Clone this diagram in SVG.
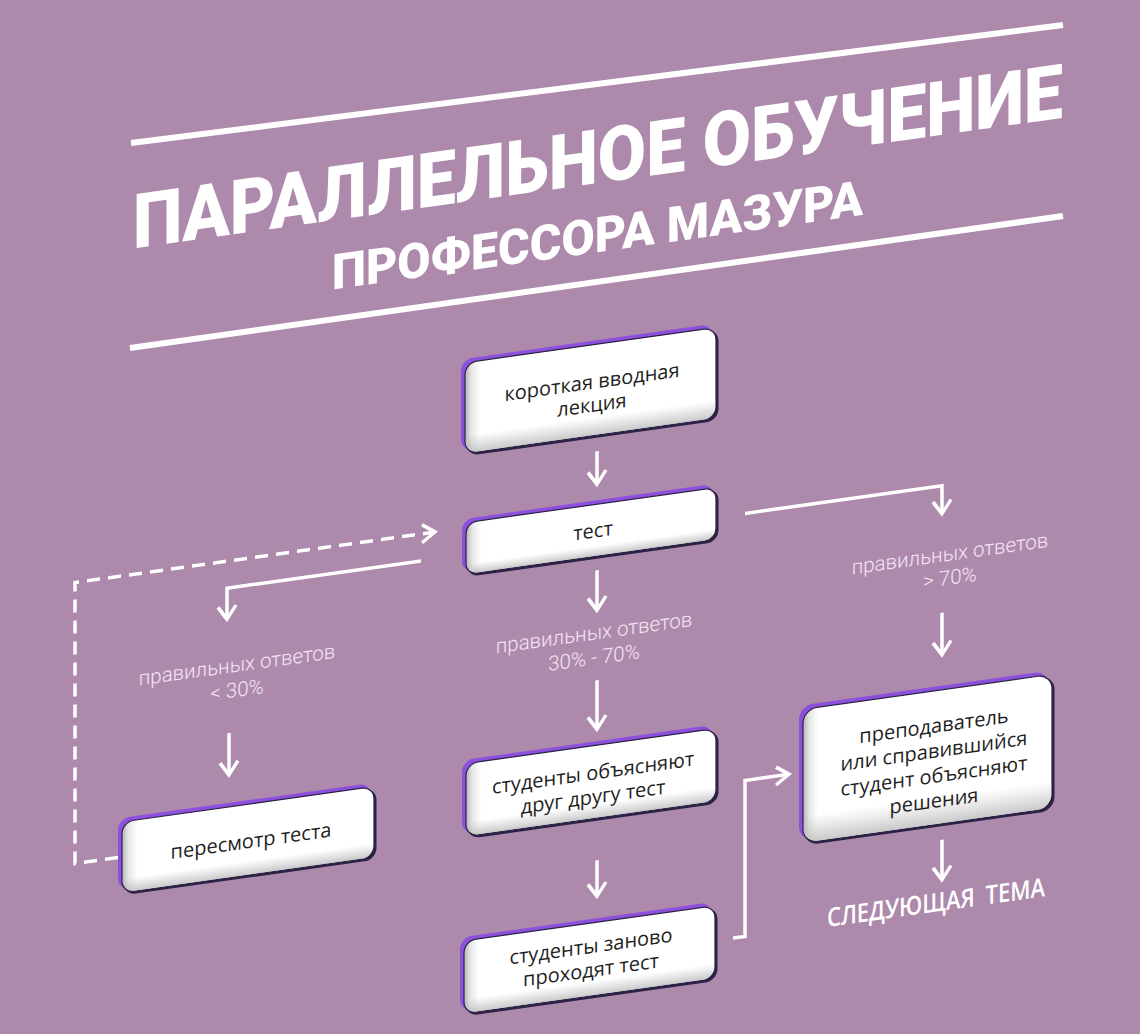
<svg xmlns="http://www.w3.org/2000/svg" width="1140" height="1034" viewBox="0 0 1140 1034">
  <defs>
    <style>
      .bg{fill:#ad8aac}
      .tline{stroke:#ffffff;stroke-width:6;fill:none}
      .title{font-family:Roboto,"Open Sans","DejaVu Sans",sans-serif;font-weight:900;fill:#ffffff}
      .shp{fill:#8d50dc}
      .shd{fill:#2b2246}
      .bx{fill:url(#gH);stroke:#2b2246;stroke-width:1.2}
      .bv{fill:url(#gV)}
      .bt{font-family:"Open Sans","Noto Sans","DejaVu Sans",sans-serif;font-size:20px;fill:#1f1f1f;text-anchor:middle}
      .lbl{font-family:Roboto,"Open Sans","DejaVu Sans",sans-serif;font-weight:300;font-size:20.5px;fill:#f5e4f3;text-anchor:middle}
      .next{font-family:"Open Sans","Noto Sans","DejaVu Sans",sans-serif;font-weight:600;font-size:26px;fill:#ffffff;word-spacing:6px}
      .con{stroke:#ffffff;stroke-width:3.5;fill:none;marker-end:url(#ah)}
      .dash{stroke-dasharray:13 8}
    </style>
    <linearGradient id="gH" x1="0" y1="0" x2="1" y2="0">
      <stop offset="0" stop-color="#b5b5b5"/>
      <stop offset="0.025" stop-color="#e6e6e6"/>
      <stop offset="0.06" stop-color="#ffffff"/>
      <stop offset="1" stop-color="#ffffff"/>
    </linearGradient>
    <linearGradient id="gV" x1="0" y1="0" x2="0" y2="1">
      <stop offset="0.8" stop-color="#c0c0c0" stop-opacity="0"/>
      <stop offset="1" stop-color="#b8b8b8" stop-opacity="0.75"/>
    </linearGradient>
    <marker id="ah" markerUnits="userSpaceOnUse" markerWidth="30" markerHeight="30" refX="0" refY="0" orient="auto" overflow="visible">
      <path d="M-13,-9 L0,0 L-13,9" fill="none" stroke="#ffffff" stroke-width="3.5" stroke-linejoin="miter"/>
    </marker>
  </defs>

  <rect class="bg" x="0" y="0" width="1140" height="1034"/>

  <g id="title-lines">
    <line class="tline" x1="131" y1="143" x2="1063" y2="25"/>
    <line class="tline" x1="130" y1="348" x2="1063" y2="216"/>
  </g>

  <g id="skewed" transform="matrix(1,-0.1405,0,1,0,80.085)">
    <g id="title">
      <text class="title" x="133" y="187" font-size="76" textLength="930" lengthAdjust="spacingAndGlyphs">ПАРАЛЛЕЛЬНОЕ ОБУЧЕНИЕ</text>
      <text class="title" x="332" y="256" font-size="49" textLength="531" lengthAdjust="spacingAndGlyphs">ПРОФЕССОРА МАЗУРА</text>
    </g>

    <g id="connectors">
      <path class="con" d="M597,455 V488"/>
      <path class="con" d="M597,574 V614"/>
      <path class="con" d="M597,684 V733"/>
      <path class="con" d="M597,864 V900"/>
      <path class="con" d="M745,538 H942 V566"/>
      <path class="con" d="M942,665 V707"/>
      <path class="con" d="M942,892 V932"/>
      <path class="con" d="M421,540 H227 V571"/>
      <path class="con" d="M229,685 V727"/>
      <path class="con dash" d="M118,794 H75 V513 H435"/>
      <path class="con" d="M733,961 H745 V805 H789"/>
    </g>

    <g id="node-lecture">
      <rect class="shp" x="461" y="344" width="252" height="92" rx="12"/>
      <rect class="shd" x="466.5" y="349.5" width="252" height="92" rx="12"/>
      <rect class="bx" x="465" y="348" width="251" height="91" rx="12"/>
      <rect class="bv" x="465.6" y="348.6" width="249.8" height="89.8" rx="11.5"/>
      <text class="bt" x="592" y="392">короткая вводная</text>
      <text class="bt" x="592" y="415">лекция</text>
    </g>

    <g id="node-test">
      <rect class="shp" x="462" y="504" width="251" height="53" rx="11"/>
      <rect class="shd" x="467.5" y="509.5" width="251" height="53" rx="11"/>
      <rect class="bx" x="466" y="508" width="250" height="52" rx="11"/>
      <rect class="bv" x="466.6" y="508.6" width="248.8" height="50.8" rx="10.5"/>
      <text class="bt" x="593" y="541">тест</text>
    </g>

    <g id="node-explain">
      <rect class="shp" x="462" y="745" width="251" height="74" rx="12"/>
      <rect class="shd" x="467.5" y="750.5" width="251" height="74" rx="12"/>
      <rect class="bx" x="466" y="749" width="250" height="73" rx="12"/>
      <rect class="bv" x="466.6" y="749.6" width="248.8" height="71.8" rx="11.5"/>
      <text class="bt" x="593" y="783">студенты объясняют</text>
      <text class="bt" x="593" y="807">друг другу тест</text>
    </g>

    <g id="node-retake">
      <rect class="shp" x="460" y="922" width="252" height="74" rx="12"/>
      <rect class="shd" x="465.5" y="927.5" width="252" height="74" rx="12"/>
      <rect class="bx" x="464" y="926" width="251" height="73" rx="12"/>
      <rect class="bv" x="464.6" y="926.6" width="249.8" height="71.8" rx="11.5"/>
      <text class="bt" x="591" y="956">студенты заново</text>
      <text class="bt" x="591" y="980">проходят тест</text>
    </g>

    <g id="node-review">
      <rect class="shp" x="118" y="755" width="253" height="72" rx="12"/>
      <rect class="shd" x="123.5" y="760.5" width="253" height="72" rx="12"/>
      <rect class="bx" x="122" y="759" width="252" height="71" rx="12"/>
      <rect class="bv" x="122.6" y="759.6" width="250.8" height="69.8" rx="11.5"/>
      <text class="bt" x="251" y="803">пересмотр теста</text>
    </g>

    <g id="node-teacher">
      <rect class="shp" x="799" y="738" width="250" height="135" rx="14"/>
      <rect class="shd" x="804.5" y="743.5" width="250" height="135" rx="14"/>
      <rect class="bx" x="803" y="742" width="249" height="134" rx="14"/>
      <rect class="bv" x="803.6" y="742.6" width="247.8" height="132.8" rx="13.5"/>
      <text class="bt" x="934" y="784">преподаватель</text>
      <text class="bt" x="934" y="809">или справившийся</text>
      <text class="bt" x="934" y="834">студент объясняют</text>
      <text class="bt" x="934" y="859">решения</text>
    </g>

    <g id="labels">
      <text class="lbl" x="237" y="625">правильных ответов</text>
      <text class="lbl" x="237" y="650">&lt; 30%</text>
      <text class="lbl" x="594" y="643">правильных ответов</text>
      <text class="lbl" x="594" y="668">30% - 70%</text>
      <text class="lbl" x="950" y="614">правильных ответов</text>
      <text class="lbl" x="950" y="638">&gt; 70%</text>
      <text class="next" x="827" y="963" textLength="218" lengthAdjust="spacingAndGlyphs">СЛЕДУЮЩАЯ ТЕМА</text>
    </g>
  </g>
</svg>
